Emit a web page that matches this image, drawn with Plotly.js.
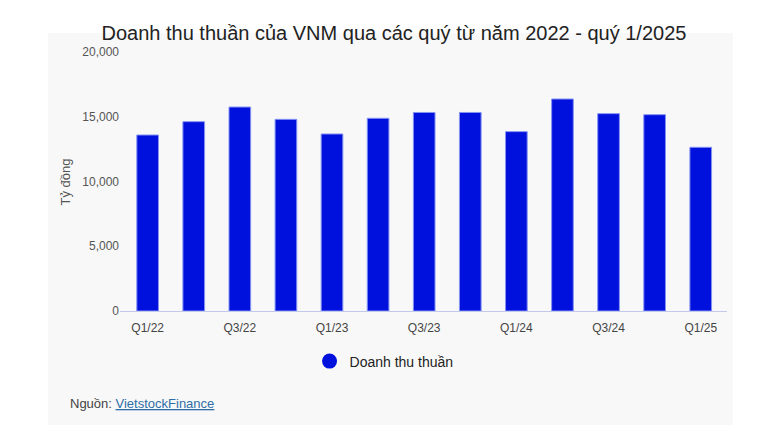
<!DOCTYPE html>
<html>
<head>
<meta charset="utf-8">
<script src="https://cdn.plot.ly/plotly-3.0.1.min.js"></script>
<style>
  html, body { margin: 0; padding: 0; background: #fff; }
  #chart { width: 777px; height: 437px; }
</style>
</head>
<body>
<div id="chart"></div>
<script>
// quarters shown on the x axis
var quarters = ['Q1/22', 'Q2/22', 'Q3/22', 'Q4/22', 'Q1/23', 'Q2/23', 'Q3/23',
                'Q4/23', 'Q1/24', 'Q2/24', 'Q3/24', 'Q4/24', 'Q1/25'];
// net revenue, billion VND
var revenue = [13590, 14620, 15750, 14800, 13670, 14880, 15330,
               15330, 13850, 16370, 15240, 15160, 12640];
var tickLabels = ['Q1/22', 'Q3/22', 'Q1/23', 'Q3/23', 'Q1/24', 'Q3/24', 'Q1/25'];
var yTicks = [0, 5000, 10000, 15000, 20000];
var seriesName = 'Doanh thu thuần';

var font = 'Arial, "Liberation Sans", sans-serif';

var bars = {
  x: quarters,
  y: revenue,
  type: 'bar',
  name: seriesName,
  width: 0.47,
  showlegend: false,
  marker: {
    color: '#0010dd',
    line: { color: '#8493f2', width: 1 }
  },
  hoverinfo: 'x+y'
};

// only there to give the legend a round marker
var legendDot = {
  x: [null],
  y: [null],
  type: 'scatter',
  mode: 'markers',
  name: seriesName,
  marker: { color: '#0010dd', size: 15, symbol: 'circle' }
};

var layout = {
  width: 777,
  height: 437,
  margin: { l: 120, r: 50, t: 52, b: 126 },
  paper_bgcolor: '#ffffff',
  plot_bgcolor: 'rgba(0,0,0,0)',
  font: { family: font, color: '#444' },
  title: {
    text: 'Doanh thu thuần của VNM qua các quý từ năm 2022 - quý 1/2025',
    font: { family: font, size: 20, color: '#222' },
    x: 0.507,
    xanchor: 'center',
    y: 0.924,
    yanchor: 'middle'
  },
  xaxis: {
    type: 'category',
    range: [-0.6, 12.57],
    tickmode: 'array',
    tickvals: tickLabels,
    ticktext: tickLabels,
    ticks: '',
    ticklabelstandoff: 6,
    showgrid: false,
    zeroline: false,
    showline: true,
    linecolor: '#c3c9ea',
    linewidth: 1,
    tickfont: { family: font, size: 12, color: '#444' },
    fixedrange: true
  },
  yaxis: {
    range: [0, 20000],
    tickvals: yTicks,
    tickformat: ',d',
    ticks: '',
    showgrid: false,
    zeroline: false,
    showline: false,
    tickfont: { family: font, size: 12, color: '#555' },
    fixedrange: true
  },
  showlegend: true,
  legend: {
    orientation: 'h',
    x: 0.435,
    xanchor: 'center',
    y: -0.195,
    yanchor: 'middle',
    bgcolor: 'rgba(0,0,0,0)',
    font: { family: font, size: 14, color: '#222' }
  },
  shapes: [{
    type: 'rect',
    xref: 'paper',
    yref: 'paper',
    x0: -0.1186, x1: 1.0099,
    y0: -0.44, y1: 1.0734,
    fillcolor: '#f8f8f8',
    line: { width: 0 },
    layer: 'below'
  }],
  annotations: [
    {
      text: 'Tỷ đồng',
      xref: 'paper', yref: 'paper',
      x: -0.089, y: 0.5,
      xanchor: 'center', yanchor: 'middle',
      textangle: -90,
      showarrow: false,
      font: { family: font, size: 13, color: '#555' }
    },
    {
      text: 'Nguồn: <span style="color:#2f6ea6;text-decoration:underline">VietstockFinance</span>',
      xref: 'paper', yref: 'paper',
      x: -0.0857, y: -0.359,
      xanchor: 'left', yanchor: 'middle',
      showarrow: false,
      font: { family: font, size: 13, color: '#444' }
    }
  ]
};

Plotly.newPlot('chart', [bars, legendDot], layout, { displayModeBar: false, staticPlot: true });
</script>
</body>
</html>
